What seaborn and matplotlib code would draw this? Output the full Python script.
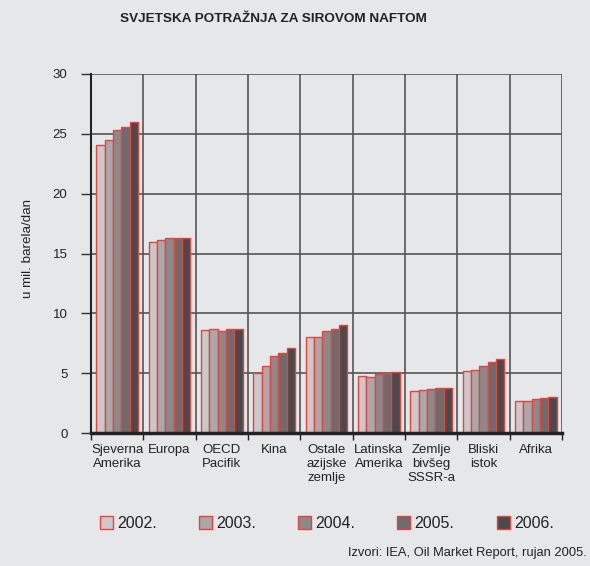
import matplotlib
matplotlib.use("Agg")
import matplotlib.pyplot as plt
import seaborn as sns
import pandas as pd

regions = ["Sjeverna\nAmerika", "Europa", "OECD\nPacifik", "Kina", "Ostale\nazijske\nzemlje",
           "Latinska\nAmerika", "Zemlje\nbivšeg\nSSSR-a", "Bliski\nistok", "Afrika"]
years = ["2002.", "2003.", "2004.", "2005.", "2006."]
v2002 = [24.1, 16.0, 8.6, 5.0, 8.0, 4.8, 3.5, 5.2, 2.7]
v2003 = [24.5, 16.1, 8.65, 5.6, 8.0, 4.7, 3.6, 5.3, 2.7]
v2004 = [25.3, 16.3, 8.5, 6.4, 8.5, 4.9, 3.7, 5.6, 2.8]
v2005 = [25.6, 16.3, 8.7, 6.7, 8.7, 5.0, 3.8, 5.9, 2.9]
v2006 = [26.0, 16.3, 8.7, 7.1, 9.0, 5.1, 3.8, 6.2, 3.0]
yticks = [0, 5, 10, 15, 20, 25, 30]

colors = ["#c9c9cb", "#a9a9ab", "#8a8a8c", "#6c6c6e", "#4a4a4c"]
edge = "#e8423c"
bg = "#e6e7e9"
txt = "#222222"

rows = []
for yr, vals in zip(years, [v2002, v2003, v2004, v2005, v2006]):
    for r, v in zip(regions, vals):
        rows.append({"region": r, "year": yr, "value": v})
df = pd.DataFrame(rows)

sns.set_theme(style="white")
plt.rcParams["font.family"] = ["Liberation Sans", "DejaVu Sans"]

fig = plt.figure(figsize=(5.9, 5.66), dpi=100, facecolor=bg)
ax = fig.add_axes([91/590, 1-433/566, 471/590, 359/566])
ax.set_facecolor(bg)

sns.barplot(data=df, x="region", y="value", hue="year", order=regions, hue_order=years,
            palette=colors, edgecolor=edge, linewidth=1.0, width=0.8, gap=0,
            legend=False, ax=ax, saturation=1)

ax.set_xlim(-0.5, 8.5)
ax.set_ylim(0, 30)
ax.set_axisbelow(True)

ax.set_xticks([i - 0.5 for i in range(10)])
ax.set_xticklabels([])
ax.set_xticks(list(range(9)), minor=True)
ax.set_xticklabels(regions, minor=True, fontsize=9.5, linespacing=1.2, color=txt)
ax.tick_params(axis="x", which="minor", length=0, pad=8)
ax.tick_params(axis="x", which="major", length=5, width=1, color=txt, direction="out", bottom=True)

ax.set_yticks(yticks)
ax.set_yticklabels([str(t) for t in yticks], fontsize=9.5, color=txt)
ax.tick_params(axis="y", length=7, width=1, color="#333333", direction="out", pad=10, left=True)

ax.grid(True, which="major", axis="both", color="#555555", linewidth=1.2)
for s in ["top", "right"]:
    ax.spines[s].set_visible(False)
ax.spines["left"].set_color(txt)
ax.spines["left"].set_linewidth(1.5)
ax.spines["bottom"].set_color(txt)
ax.spines["bottom"].set_linewidth(2.5)
ax.spines["bottom"].set_zorder(5)

ax.set_xlabel("")
ax.set_ylabel("")
fig.text(28/590, 1-248/566, "u mil. barela/dan", rotation=90, ha="center", va="center",
         fontsize=9.6, color=txt)

fig.text(273.5/590, 1-19/566, "SVJETSKA POTRAŽNJA ZA SIROVOM NAFTOM", ha="center", va="center",
         fontsize=9.7, fontweight="bold", color=txt)

xs = [100, 199, 298, 397, 497]
for yr, x, c in zip(years, xs, colors):
    fig.patches.append(plt.Rectangle((x/590, 1-529/566), 13/590, 13/566, transform=fig.transFigure,
                                     facecolor=c, edgecolor=edge, linewidth=1.0))
    fig.text((x+17)/590, 1-523/566, yr, ha="left", va="center", fontsize=11.5, color=txt)

fig.text(348/590, 1-553/566, "Izvori: IEA, Oil Market Report, rujan 2005.", ha="left", va="center",
         fontsize=9.3, color=txt)

fig.savefig("out.png", dpi=100, facecolor=bg)
